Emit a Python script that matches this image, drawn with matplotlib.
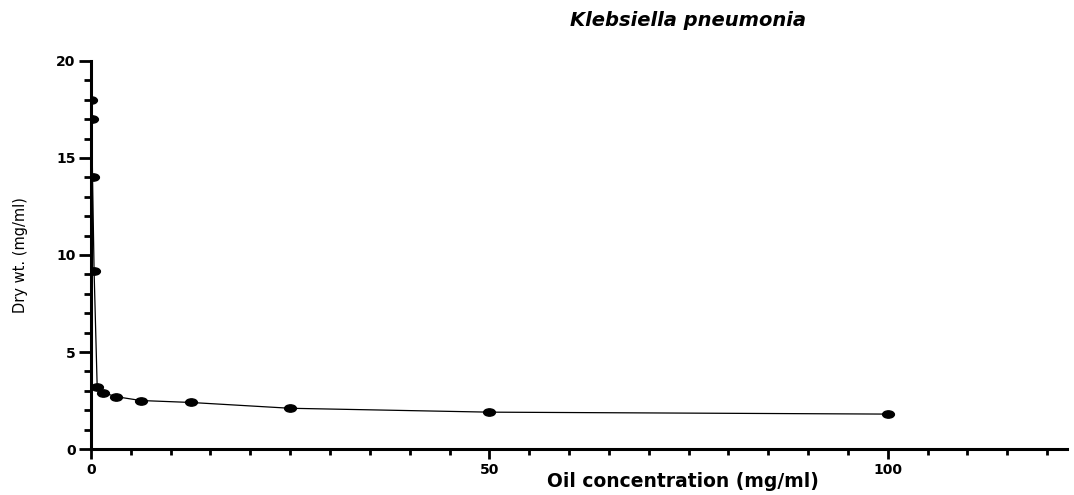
import numpy as np
import matplotlib
matplotlib.use("Agg")
import matplotlib.pyplot as plt
from matplotlib.path import Path

# Oil concentration (mg/ml) vs dry weight (mg/ml)
conc = [0.0488, 0.0977, 0.195, 0.39, 0.78, 1.5625, 3.125, 6.25, 12.5, 25, 50, 100]
dry_wt = [18.0, 17.0, 14.0, 9.2, 3.2, 2.9, 2.7, 2.5, 2.4, 2.1, 1.9, 1.8]

x_ticks = [0, 50, 100]
y_ticks = [0, 5, 10, 15, 20]

plt.rcParams['font.family'] = ['DejaVu Sans']

fig = plt.figure(figsize=(10.74, 4.95), dpi=100)
ax = fig.add_axes([0.0847, 0.0929, 0.9088, 0.7839])

# flattened ellipse marker like the reference
circ = Path.unit_circle()
ellipse = Path(circ.vertices * np.array([1.0, 0.62]), circ.codes)

ax.plot(conc, dry_wt, '-', color='black', linewidth=0.9,
        marker=ellipse, markersize=8.5, markerfacecolor='black', markeredgecolor='black')

ax.set_xlim(0, 122.5)
ax.set_ylim(0, 20)
ax.set_xticks(x_ticks)
ax.set_xticks(np.arange(0, 121, 5), minor=True)
ax.set_yticks(y_ticks)
ax.set_yticks(np.arange(0, 21, 1), minor=True)

for side in ['top', 'right']:
    ax.spines[side].set_visible(False)
for side in ['left', 'bottom']:
    ax.spines[side].set_linewidth(2.2)

ax.tick_params(axis='y', which='major', length=9, width=2.0, labelsize=10, pad=2)
ax.tick_params(axis='y', which='minor', length=5, width=2.0)
ax.tick_params(axis='x', which='major', length=7, width=2.0, labelsize=10, pad=3)
ax.tick_params(axis='x', which='minor', length=4.5, width=2.0)
for lab in ax.get_xticklabels() + ax.get_yticklabels():
    lab.set_fontweight('bold')

fig.text(0.641, 0.958, 'Klebsiella pneumonia', ha='center', va='center',
         fontsize=14, fontweight='bold', fontstyle='italic')
fig.text(0.636, 0.028, 'Oil concentration (mg/ml)', ha='center', va='center',
         fontsize=13.5, fontweight='bold')
fig.text(0.019, 0.485, 'Dry wt. (mg/ml)', ha='center', va='center', rotation=90,
         fontsize=10.5, family=['Liberation Sans Narrow', 'DejaVu Sans'])

fig.savefig('out.png', dpi=100)
